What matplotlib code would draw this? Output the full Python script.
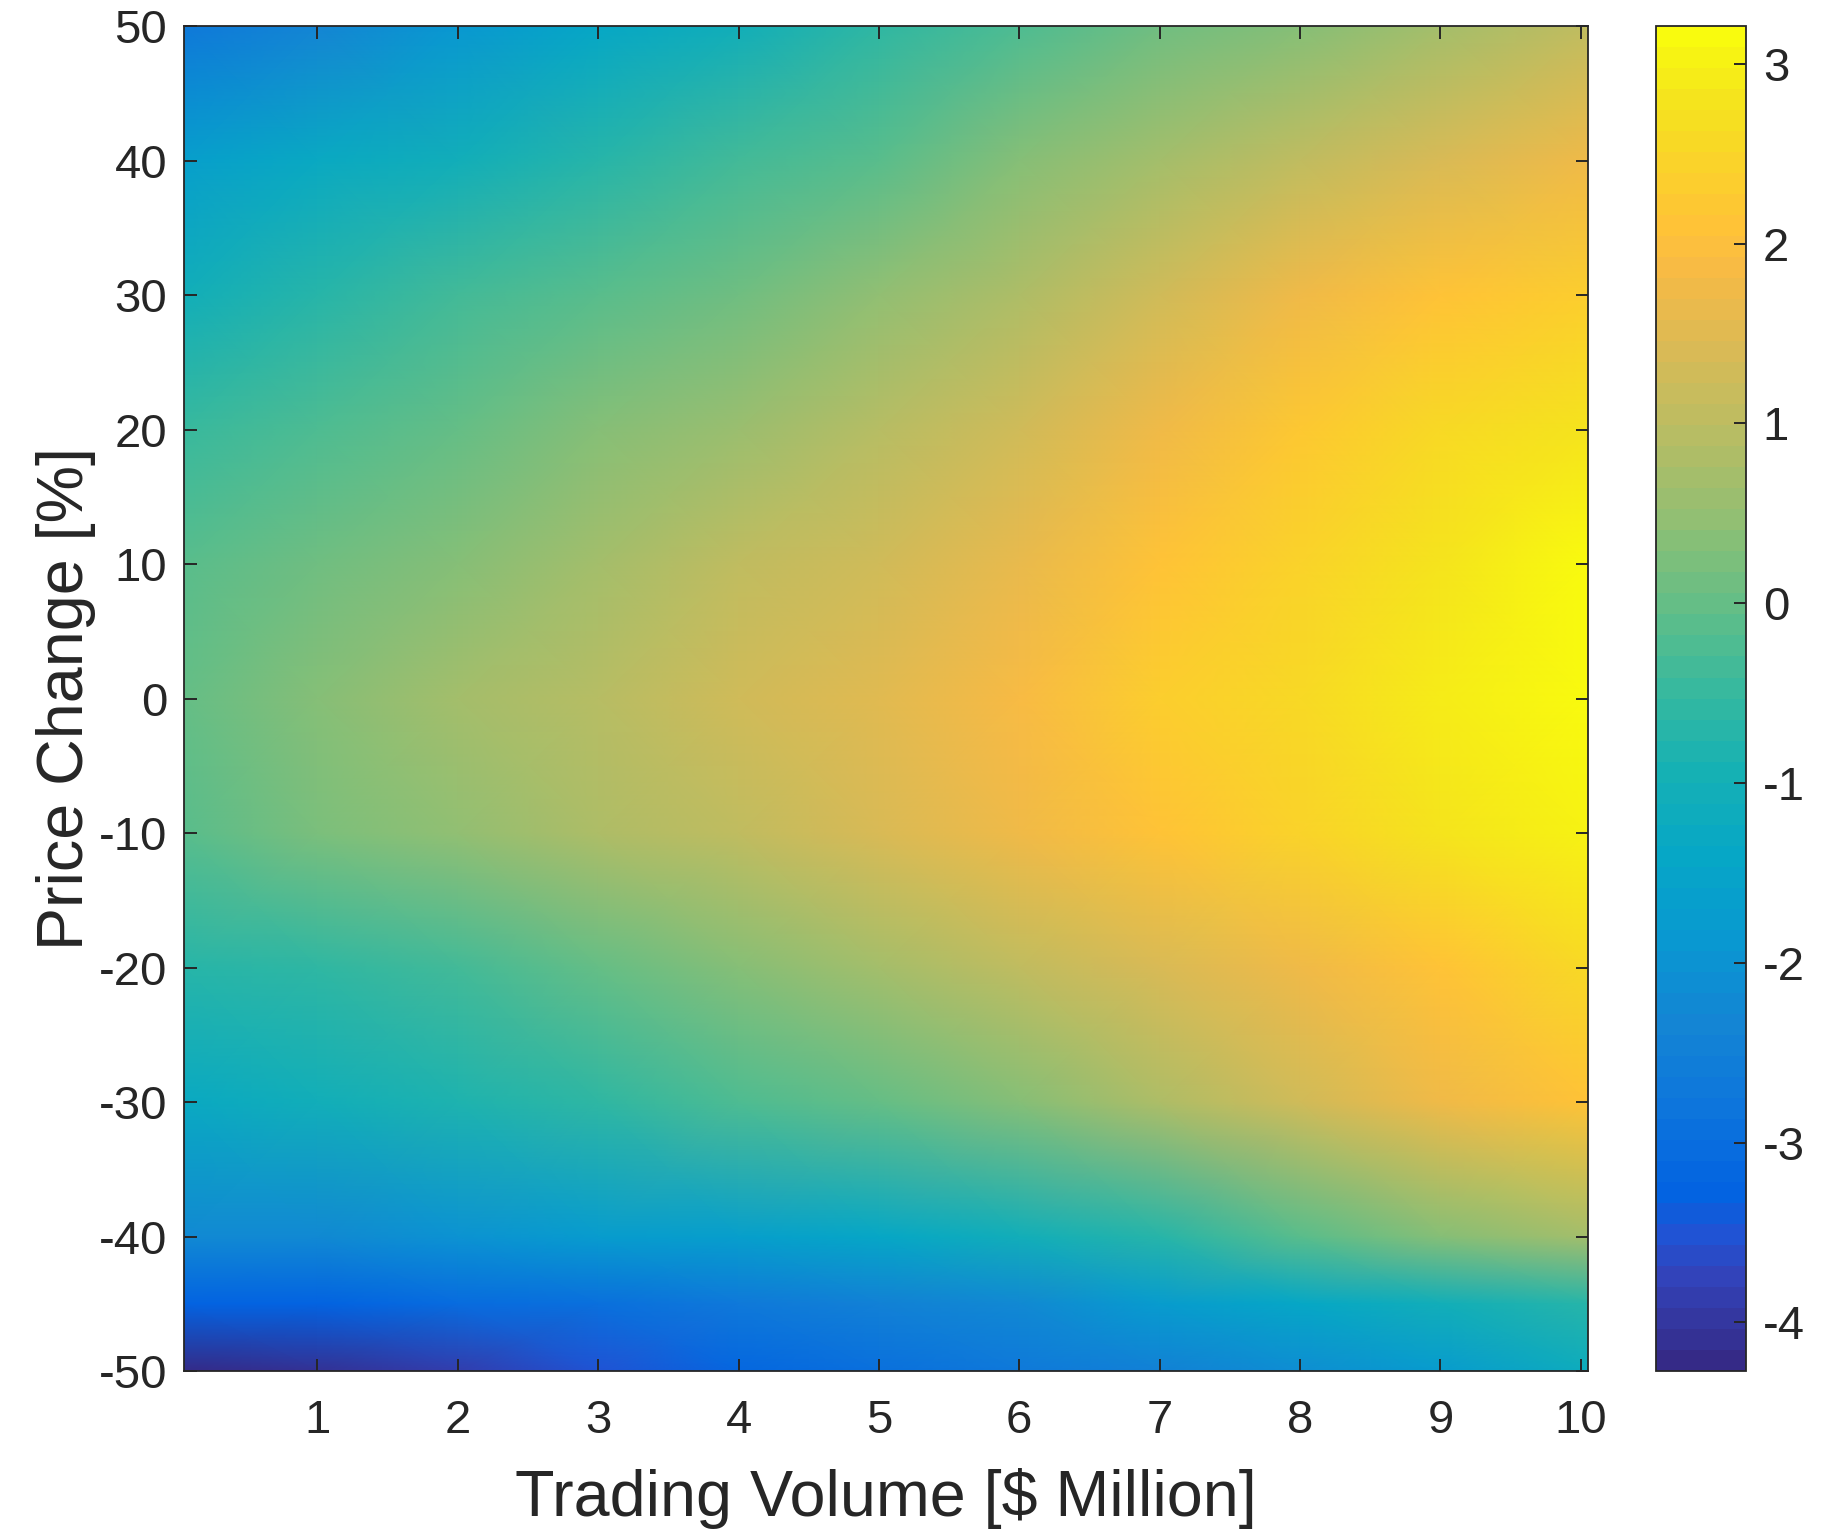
import numpy as np
import matplotlib
matplotlib.use('Agg')
import matplotlib.pyplot as plt
from matplotlib.colors import LinearSegmentedColormap

# grid of the response surface: trading volume (columns) x price change (rows)
volume = [0.05, 1, 2, 3, 4, 5, 6, 7, 8, 9, 10.05]
price_change = [50, 40, 30, 20, 10, 0, -10, -20, -30, -40, -45, -50]

row_p50 = [-2.7, -2.3, -1.9, -1.4, -1.0, -0.6, -0.2, 0.1, 0.4, 0.7, 1.0]
row_p40 = [-1.6, -1.3, -1.0, -0.7, -0.4, -0.1, 0.3, 0.7, 1.1, 1.45, 1.75]
row_p30 = [-1.0, -0.7, -0.4, -0.1, 0.15, 0.45, 0.85, 1.3, 1.75, 2.1, 2.35]
row_p20 = [-0.5, -0.25, 0.05, 0.35, 0.6, 0.9, 1.3, 1.8, 2.25, 2.6, 2.8]
row_p10 = [-0.1, 0.15, 0.4, 0.7, 1.0, 1.3, 1.65, 2.1, 2.5, 2.85, 3.1]
row_0 = [0.05, 0.35, 0.65, 0.95, 1.25, 1.55, 1.85, 2.3, 2.55, 2.9, 3.2]
row_m10 = [-0.15, 0.2, 0.5, 0.8, 1.1, 1.4, 1.75, 2.15, 2.45, 2.75, 3.05]
row_m20 = [-0.75, -0.6, -0.35, 0.0, 0.4, 0.75, 1.1, 1.45, 1.8, 2.15, 2.55]
row_m30 = [-1.25, -1.1, -0.85, -0.55, -0.25, 0.0, 0.4, 0.8, 1.3, 1.75, 2.05]
row_m40 = [-2.2, -2.2, -2.0, -1.8, -1.6, -1.35, -1.1, -0.65, -0.1, 0.35, 0.7]
row_m45 = [-3.3, -3.25, -3.1, -2.9, -2.7, -2.5, -2.2, -1.8, -1.4, -1.0, -0.65]
row_m50 = [-4.25, -4.05, -3.85, -3.5, -3.2, -2.95, -2.7, -2.4, -2.1, -1.7, -1.2]

surface = np.array([row_p50, row_p40, row_p30, row_p20, row_p10, row_0,
                    row_m10, row_m20, row_m30, row_m40, row_m45, row_m50])

x_ticks = [1, 2, 3, 4, 5, 6, 7, 8, 9, 10]
y_ticks = [-50, -40, -30, -20, -10, 0, 10, 20, 30, 40, 50]
cbar_ticks = [-4, -3, -2, -1, 0, 1, 2, 3]
clim = (-4.27, 3.21)

# MATLAB parula, sampled
parula_pts = [
    (0 / 63, (0.2081, 0.1663, 0.5292)),
    (4 / 63, (0.1959, 0.2645, 0.7279)),
    (6 / 63, (0.1253, 0.3242, 0.8303)),
    (8 / 63, (0.0117, 0.3875, 0.8820)),
    (12 / 63, (0.0498, 0.4586, 0.8641)),
    (16 / 63, (0.0793, 0.5200, 0.8312)),
    (20 / 63, (0.0343, 0.5966, 0.8199)),
    (24 / 63, (0.0228, 0.6535, 0.7768)),
    (28 / 63, (0.0843, 0.6928, 0.7062)),
    (32 / 63, (0.2178, 0.7250, 0.6193)),
    (36 / 63, (0.3953, 0.7459, 0.5244)),
    (40 / 63, (0.5709, 0.7485, 0.4494)),
    (44 / 63, (0.7184, 0.7411, 0.3905)),
    (48 / 63, (0.8507, 0.7299, 0.3360)),
    (52 / 63, (0.9739, 0.7314, 0.2666)),
    (54 / 63, (0.9990, 0.7653, 0.2164)),
    (56 / 63, (0.9880, 0.8066, 0.1794)),
    (60 / 63, (0.9589, 0.8949, 0.1132)),
    (63 / 63, (0.9763, 0.9831, 0.0538)),
]
parula = LinearSegmentedColormap.from_list('parula', parula_pts, N=64)

plt.rcParams['font.family'] = ['Liberation Sans', 'DejaVu Sans']
ink = '#262626'

fig = plt.figure(figsize=(18.34, 15.30), dpi=100)
ax = fig.add_axes([0.1003, 0.1039, 0.7655, 0.8791])
cax = fig.add_axes([0.9030, 0.1039, 0.0491, 0.8791])

X, Y = np.meshgrid(volume, price_change)
mesh = ax.pcolormesh(X, Y, surface, shading='gouraud', cmap=parula,
                     vmin=clim[0], vmax=clim[1])

ax.set_xlim(0.05, 10.05)
ax.set_ylim(-50, 50)
ax.set_xticks(x_ticks)
ax.set_xticklabels([str(t) for t in x_ticks])
ax.set_yticks(y_ticks)
ax.set_yticklabels([str(t) for t in y_ticks])
ax.tick_params(direction='in', top=True, right=True, length=9, width=1.4,
               color=ink, labelcolor=ink, labelsize=34)
ax.tick_params(axis='x', pad=20)
ax.tick_params(axis='y', pad=12)
for s in ax.spines.values():
    s.set_color(ink)
    s.set_linewidth(1.3)

ax.set_xlabel('Trading Volume [$ Million]', fontsize=46.5, color=ink)
ax.set_ylabel('Price Change [%]', fontsize=46.5, color=ink)
ax.xaxis.set_label_coords(0.5, -0.072)
ax.yaxis.set_label_coords(-0.063, 0.5)

cb = fig.colorbar(mesh, cax=cax, ticks=cbar_ticks)
cb.ax.set_yticklabels([str(t) for t in cbar_ticks])
cb.ax.tick_params(direction='in', length=9, width=1.4, color=ink,
                  labelcolor=ink, labelsize=34, pad=12)
cb.outline.set_edgecolor(ink)
cb.outline.set_linewidth(1.3)

fig.savefig('out.png', dpi=100)
